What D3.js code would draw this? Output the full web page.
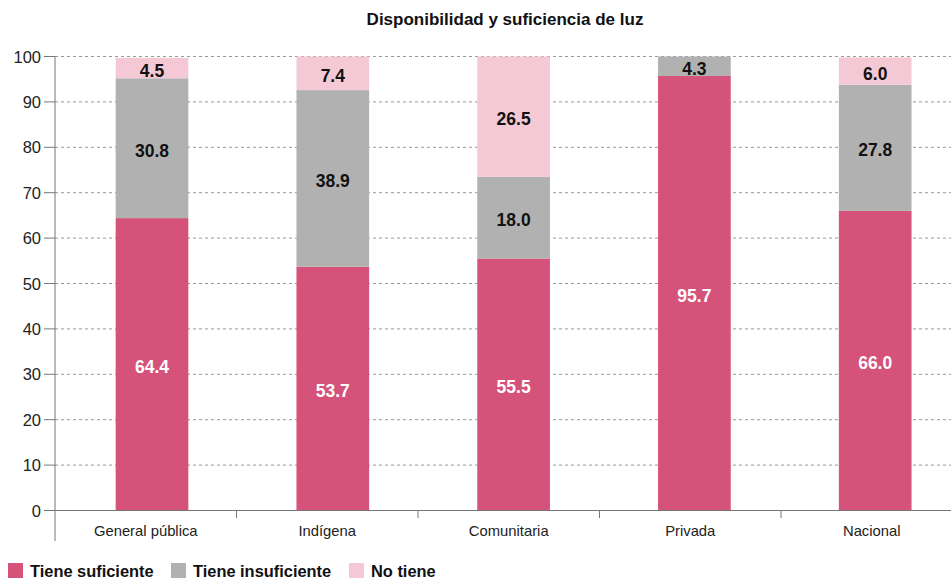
<!DOCTYPE html>
<html><head><meta charset="utf-8">
<script src="https://cdn.jsdelivr.net/npm/d3@7"></script>
<style>body{margin:0;background:#fff}svg{display:block}text{font-family:"Liberation Sans",Arial,sans-serif}</style>
</head><body><svg id="c" width="951" height="580"></svg>
<script>
const categories = ["General pública","Indígena","Comunitaria","Privada","Nacional"];
const suficiente = [64.4, 53.7, 55.5, 95.7, 66.0];
const insuficiente = [30.8, 38.9, 18.0, 4.3, 27.8];
const noTiene = [4.5, 7.4, 26.5, 0, 6.0];
const seriesNames = ["Tiene suficiente","Tiene insuficiente","No tiene"];
const colors = ["#D5527A","#B1B1B1","#F4C9D5"];
const yTicks = [0,10,20,30,40,50,60,70,80,90,100];

const svg = d3.select("#c");
const y = d3.scaleLinear().domain([0,100]).range([510.5,56.5]);
const xAxis = d3.scaleBand().domain(categories).range([55,962.5]);
const xBar = d3.scaleBand().domain(categories).range([61.6,965.6]).paddingInner(0.598).paddingOuter(0.299);

// title
svg.append("text").attr("x",505).attr("y",25).attr("text-anchor","middle")
  .attr("font-size",17).attr("font-weight","bold").attr("fill","#111").text("Disponibilidad y suficiencia de luz");

// grid
svg.append("g").selectAll("line").data(yTicks).join("line")
  .attr("x1",55).attr("x2",951).attr("y1",d=>y(d)).attr("y2",d=>y(d))
  .attr("stroke",d=>d===0?"none":"#9a9a9a").attr("stroke-dasharray","3,3").attr("stroke-width",1);

// bars
const data = categories.map((c,i)=>({cat:c, vals:[suficiente[i],insuficiente[i],noTiene[i]]}));
const segs = [];
data.forEach(d=>{let acc=0; d.vals.forEach((v,k)=>{segs.push({cat:d.cat,k,v,y0:acc,y1:acc+v}); acc+=v;});});
svg.append("g").selectAll("rect").data(segs.filter(s=>s.v>0)).join("rect")
  .attr("x",s=>xBar(s.cat)).attr("width",xBar.bandwidth())
  .attr("y",s=>y(s.y1)).attr("height",s=>y(s.y0)-y(s.y1))
  .attr("fill",s=>colors[s.k]);

// value labels
svg.append("g").selectAll("text").data(segs.filter(s=>s.v>0)).join("text")
  .attr("x",s=>xBar(s.cat)+xBar.bandwidth()/2).attr("y",s=>y((s.y0+s.y1)/2)+8.5)
  .attr("text-anchor","middle").attr("font-size",17.5).attr("font-weight","bold")
  .attr("fill",s=>s.k===0?"#fff":"#111").text(s=>s.v.toFixed(1));

// y axis
const ya = svg.append("g");
ya.append("line").attr("x1",55).attr("x2",55).attr("y1",y(100)).attr("y2",541).attr("stroke","#777");
ya.selectAll(".t").data(yTicks).join("line").attr("class","t")
  .attr("x1",44).attr("x2",55).attr("y1",d=>y(d)).attr("y2",d=>y(d)).attr("stroke","#777");
ya.selectAll("text").data(yTicks).join("text")
  .attr("x",41).attr("y",d=>y(d)+6).attr("text-anchor","end").attr("font-size",16.5).attr("fill","#222").text(d=>d);

// x axis
const xa = svg.append("g");
xa.append("line").attr("x1",55).attr("x2",951).attr("y1",510.5).attr("y2",510.5).attr("stroke","#777");
xa.selectAll(".t").data(categories.slice(1)).join("line").attr("class","t")
  .attr("x1",d=>xAxis(d)).attr("x2",d=>xAxis(d)).attr("y1",510.5).attr("y2",518).attr("stroke","#777");
xa.selectAll("text").data(categories).join("text")
  .attr("x",d=>xAxis(d)+xAxis.bandwidth()/2).attr("y",536).attr("text-anchor","middle")
  .attr("font-size",14.8).attr("fill","#222").text(d=>d);

// legend
const legX = [8,171,349];
const lg = svg.append("g");
seriesNames.forEach((n,i)=>{
  lg.append("rect").attr("x",legX[i]).attr("y",563).attr("width",15).attr("height",15).attr("fill",colors[i]);
  lg.append("text").attr("x",legX[i]+22).attr("y",577).attr("font-size",16.4).attr("font-weight","bold").attr("fill","#111").text(n);
});
</script></body></html>
